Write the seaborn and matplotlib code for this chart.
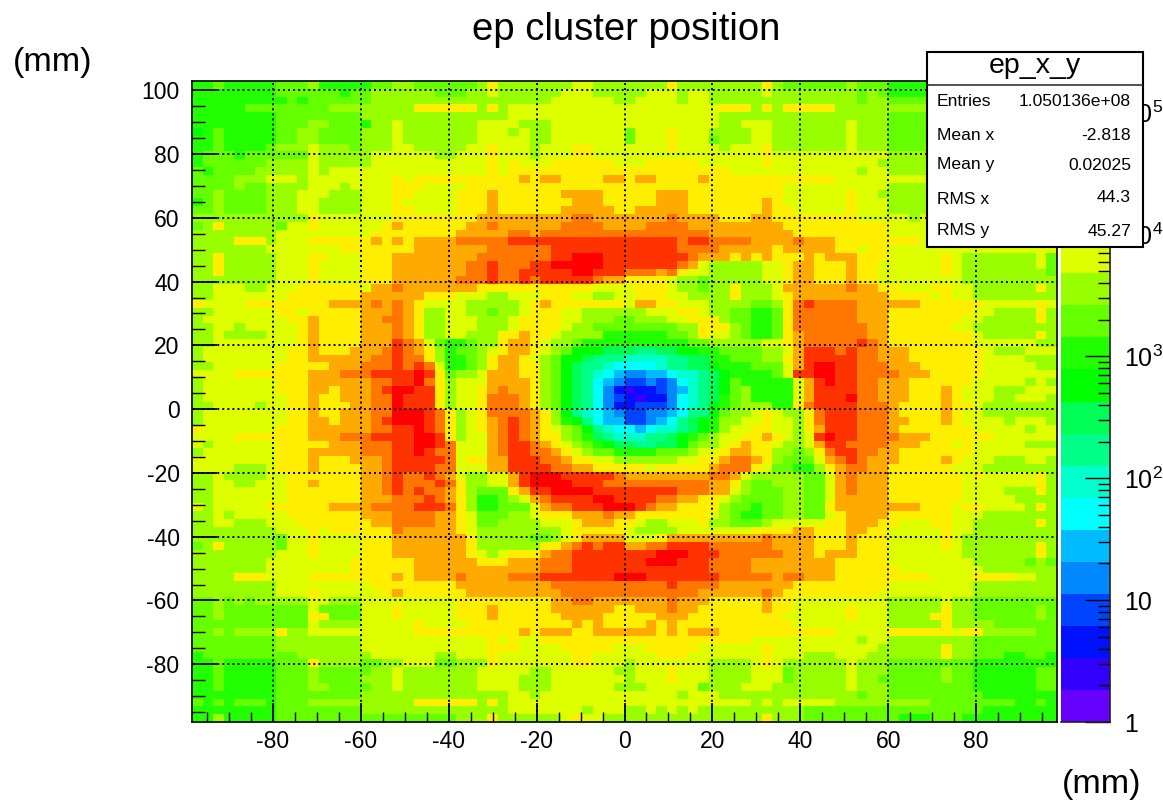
import re
import numpy as np
import seaborn as sns
import matplotlib.pyplot as plt
from matplotlib.colors import ListedColormap
from matplotlib.patches import Rectangle

# colour level codes, lowest count first
level_codes = "ZXWVUSTBCDEFHGLYAOQR"
level_colors = ["#6600ff", "#3300ff", "#0011ff", "#0044ff", "#0088ff", "#00bbff", "#00ffff",
                "#00ffcc", "#00ff88", "#00ff55", "#00ff00", "#22ff00", "#66ff00", "#99ff00",
                "#ddff00", "#ffee00", "#ffaa00", "#ff7700", "#ff3300", "#ff0000"]

# run length rows (code + number of bins), top row first, x < 0 half
left_rows = [
    "F2 H1 F5 H3 G1 F5 H2 G2 H6 G1 Y1 G7 L2 G3",
    "F8 H6 F1 H2 G6 H3 G2 L1 G6 L3 G3",
    "F9 H1 F1 H6 G17 L6 G1",
    "F5 H8 G8 Y6 G1 Y1 G1 L11",
    "F8 H8 G14 L11",
    "F8 H3 G2 H3 F1 G2 L1 G7 L4 G3 L7",
    "E1 F1 H1 F5 H2 G2 H4 G3 L1 G7 L3 G1 L1 G2 L7",
    "F2 H1 F5 H2 G2 H4 G3 L1 G7 L5 G2 L7",
    "F2 H1 F4 H1 G3 L1 G3 H1 G3 L2 G5 L2 Y1 L3 G1 L3 Y2 L3",
    "F1 H3 F1 H6 L1 G5 L6 G2 L3 Y1 L3 G1 L3 Y2 L3",
    "F1 H6 G1 G3 L1 G5 L11 Y1 L1 Y1 L3 Y6 L1",
    "H1 F1 H4 G5 L1 G1 L15 Y1 L1 Y11",
    "H4 G3 L3 G1 L8 Y1 L1 Y10 A1 Y1 A2 Y4 A2",
    "H4 G1 H2 G4 L3 G1 L4 Y2 Y1 L4 Y15",
    "H2 G1 H4 G3 L3 G3 L3 Y2 L4 Y3 A1 Y6 A4 Y2",
    "F1 H1 G1 H4 G3 L2 G4 L3 Y1 L5 Y3 A1 Y7 A3 Y2",
    "H2 G1 H4 G3 L2 G4 L3 Y2 L4 Y3 A1 Y6 A5 Y1",
    "G11 Y1 L7 Y8 A9 O2 A3",
    "H1 G1 Y1 G5 H1 L2 Y1 L6 Y1 A1 Y6 A2 O1 A6 O4 A2",
    "G8 L9 Y8 A5 O2 A1 O8",
    "G4 Y3 G1 L3 Y6 A1 Y1 A1 Y1 A4 O5 Q11",
    "G7 L7 Y7 A7 O6 Q7",
    "G2 Y1 G5 L3 Y2 L3 Y3 A8 O7 Q2 R3 Q2",
    "G2 Y1 G5 L3 Y1 L4 Y3 A7 O2 Q1 O3 Q2 R5 Q2",
    "G2 Y1 G5 L3 Y1 L4 Y3 A7 O2 Q1 O2 Q2 Q3 R2 Q3",
    "G8 L3 Y1 L4 Y3 A6 O3 Q1 O2 Q1 O1 Q5 O1 A2",
    "G2 L3 G2 L3 Y6 L1 A2 O1 A7 Y11 L3",
    "G2 L7 Y7 A6 Y3 L3 G2 L3 Y3 L2 G2 L1",
    "Y1 L4 Y8 A3 A1 O1 A1 O1 A1 Y1 L4 G5 L1 Y1 A1 Y7",
    "G2 L6 Y2 L1 Y5 A3 O1 A1 Y1 G2 L2 G2 H1 G2 L1 Y3 L2 G4",
    "G1 L7 L1 Y2 A1 Y4 A2 O2 A1 Y1 G2 L3 G3 L1 Y4 L2 G3 H1",
    "G2 L2 G1 L5 Y1 A1 Y4 A3 O1 A1 Y1 G2 L3 G3 L1 Y4 L1 G2 H3",
    "G2 L1 G4 L3 Y1 A1 Y4 A3 O1 A1 Y1 G2 L2 G3 Y2 A1 Y2 L1 G4 F2",
    "G2 L8 Y1 A1 Y4 A3 Q1 O1 A1 L1 H1 F2 H1 G2 Y1 A2 Y1 L1 G2 H1 F4",
    "G1 L8 Y2 A1 Y3 A3 O1 Q1 O1 A1 Y1 G1 F1 H2 G1 L1 Y1 A2 Y1 L1 G1 H1 E3 D2",
    "G1 L8 Y2 A5 A1 O2 Q1 O2 Y1 G1 F2 H1 G1 Y1 A2 Y1 L1 G1 H1 E2 D1 C3",
    "G2 L6 Y5 A3 O3 Q1 O1 Q1 O1 L1 F2 H1 G1 Y1 A2 Y2 G1 H1 E1 D1 C2 B1 T1",
    "L4 Y7 A3 O3 Q4 R1 Q1 Y1 H1 G2 L1 A3 Y2 G1 H1 E1 D1 C1 B1 T1 S1",
    "G1 L7 Y3 A6 O2 Q2 R1 O1 Y1 G1 L3 A4 Y1 G1 H1 E1 D1 C1 T1 S1 U1",
    "G1 L7 Y3 A2 Y1 A3 O1 Q1 R2 Q2 Y1 G1 L2 Y1 A1 O1 A2 Y1 G1 H1 E1 D1 C1 T1 U1 W1",
    "G1 L8 Y2 A1 Y2 A3 O2 R1 Q3 Y1 G1 L2 Y1 O3 A1 Y1 G1 H1 E1 D1 C1 T1 U1 V1",
    "G2 L4 G1 L2 Y2 A1 Y3 A2 O2 R1 Q3 Y1 G1 L2 Y1 O3 A1 Y1 G1 H1 E1 D1 C1 T1 U1 W1",
    "G1 L8 Y2 A1 Y2 A3 O2 R3 Q1 O1 Y1 G1 L1 Y1 O4 A1 Y1 G1 E1 C1 B1 T1 S1 U1",
    "G1 L8 Y2 A2 Y1 A3 O1 Q1 R3 Q1 O1 Y1 G1 L1 Y1 A1 O1 Q1 O1 A1 Y1 G1 F1 E1 C1 T1 S2",
    "Y1 L7 Y3 A5 A1 O2 Q2 R1 Q1 O1 Y1 G1 L1 Y1 A1 O1 Q1 O1 A1 Y1 L1 G1 H1 E1 C1 B1 T1",
    "L4 Y4 Y3 A3 O3 Q4 R2 Q1 Y1 G1 L2 A1 O1 Q1 O1 A1 Y2 G1 H1 F1 D1 C1 B1",
    "L1 G1 L6 Y5 A3 O3 Q2 R2 Q1 O1 L3 A1 O1 Q2 O1 A1 Y1 L1 G1 H1 F1 E1 D1",
    "G1 L7 Y3 A5 O3 Q2 R1 Q1 O2 L3 A1 O1 Q2 O2 A1 Y1 L1 G1 H2 F1",
    "L8 Y3 A1 Y3 A3 O1 Q5 O1 L1 Y2 A2 Q3 O2 A1 Y2 L2 G1",
    "L4 G3 L1 Y3 A1 Y4 A2 O1 Q4 O2 L3 A2 Q3 Q1 O2 A2 Y3",
    "G2 L1 G4 L2 Y7 A2 O1 Q1 O2 Q1 O1 A1 L1 G2 L2 A1 Q1 R3 Q5 O1",
    "G2 L2 G2 L3 Y2 A1 Y4 A2 O1 Q1 O3 Q1 O1 Y1 G2 L2 A1 Q1 R4 Q3 O2",
    "G2 L7 Y7 A2 O1 Q1 O1 Q1 O2 A1 Y1 G1 H3 Y1 A1 Q2 R4 Q3",
    "G2 L7 Y7 A3 O3 Q1 O1 A1 Y1 G1 F2 H1 G1 L1 A1 O1 Q4 R2 Q1",
    "L1 G1 L5 Y6 A4 O4 Q3 O1 Y1 G1 F2 H3 L1 A1 O2 Q3 R2",
    "G2 L1 G1 L5 Y7 A3 O4 A2 Y1 L1 H3 G2 L1 Y3 A3 O1 A1",
    "G2 L2 G3 L3 Y6 Y1 A2 O4 A2 Y1 L1 H2 G4 L3 Y1 A3 Y1",
    "G8 L3 Y1 L1 Y6 O1 A5 Y1 L1 G8 L1 Y5",
    "G8 H1 L2 Y1 L4 Y3 A7 Y1 G5 H2 G1 L1 Y1 A4",
    "H1 G1 Y1 G5 H1 L2 Y1 L4 Y3 A7 Y1 G6 Y2 A1 O1 Q1 O1 Q2",
    "G8 L3 Y1 L4 Y3 A7 Y1 L1 G1 L1 Y3 A1 O2 Q5",
    "G7 L8 Y6 A6 Y3 A3 O3 Q5",
    "G7 L8 Y6 A12 O3 Q5",
    "G4 Y3 L4 Y8 A1 Y1 A4 O1 A4 O3 Q7 R1",
    "G8 L9 Y8 A9 O7",
    "G8 L3 Y1 L6 Y1 A1 Y6 A9 O6",
    "H2 G1 H1 G1 H1 G5 L2 G3 L9 Y9 A2 O2 A3",
    "H2 G1 H5 H3 L1 H4 L3 Y1 L5 Y3 A1 Y5 A6 Y1",
    "H2 G1 H8 Y2 H3 L3 Y1 L5 Y3 A1 Y6 A4 Y2",
    "H11 L1 G4 L5 Y1 L4 Y10 A1 Y1 A1 Y2",
    "H2 G1 H1 G4 Y1 G2 L5 L5 Y10 A1 Y1 A3 Y2 A3",
    "H8 G8 L12 Y1 L1 Y1 L2 Y8",
    "H8 G8 L12 Y3 L4 Y5 L1",
    "F1 H9 G7 L6 G2 L3 Y1 L7 Y2 L3",
    "F2 H1 F5 H3 Y1 G4 H2 G2 L3 H2 G3 Y1 L7 Y2 L3",
    "F2 H1 F5 H3 G1 H4 H1 G2 L1 G7 L5 G2 L6 G1",
    "F2 H1 F5 H3 G1 H4 G3 L1 G7 L4 G3 L7",
    "F2 H1 F5 H3 G2 H3 H1 G2 L1 G7 L4 G3 L6 G1",
    "F8 H8 G14 L2 G1 L8",
    "H1 F1 H1 F1 H3 F1 H3 G5 G5 Y6 G1 Y1 G1 L11",
    "F8 H8 G14 L7 G1 L3",
    "F2 G1 F5 H15 H2 G3 Y1 G6 L1 Y1 L2 G2",
]

# same rows, x > 0 half
right_rows = [
    "G4 Y1 G8 Y1 G1 H6 G1 H3 F16",
    "G2 L3 G1 L2 G5 L1 G8 H1 G1 H1 F16",
    "G1 L4 G1 L2 G14 H1 G2 H16",
    "L9 Y3 G1 Y1 G1 Y5 G21",
    "L9 G16 H16",
    "L9 G2 L3 G7 L1 G3 H16",
    "H1 L3 Y1 L3 G4 L2 G7 L1 G3 H16",
    "H1 L3 Y1 L3 H1 G3 L2 G7 L1 G3 H16",
    "L4 Y1 L4 G1 L3 Y1 G7 L1 G3 H16",
    "L13 Y1 L11 G16",
    "L2 Y5 L6 Y1 L10 G17",
    "Y10 L12 G1 L2 G16",
    "Y1 A2 Y4 A1 Y12 L9 G12",
    "Y15 L10 G16",
    "Y3 A3 Y9 L6 Y1 L2 G17",
    "Y3 A3 Y7 A1 Y1 L6 Y1 L3 G16",
    "Y1 A5 Y7 A1 Y2 L5 Y1 L3 G16",
    "A4 O1 A4 Y3 A2 Y8 L5 G1 L13",
    "A2 O4 A9 Y10 L16",
    "O8 A8 Y9 L16",
    "Q5 O1 Q2 O4 A4 O1 A3 Y8 L13",
    "Q5 O4 A5 Y1 A1 A4 Y2 L1 Y2 L16",
    "Q6 O1 A3 Y1 A1 Y1 A1 Y3 A1 Y1 A3 Y3 L5 Y1 L1 G7 L1 H1",
    "Q5 O1 A1 L1 G5 L2 Y1 A2 Y3 A1 Y2 L6 Y1 L1 G7 L1 H1",
    "O3 A1 O1 Y1 L2 G5 L2 Y1 A2 Y3 A1 Y2 L6 Y1 L1 G8 H1",
    "Y4 L1 G2 H1 G5 L2 Y1 A2 Y3 A1 Y2 L8 G9",
    "L1 Y3 L1 G2 H1 G2 Y1 G3 L1 A6 O1 A2 Y2 L3 Y2 L2 G6 Y1 G1",
    "L1 Y3 L2 G4 Y1 G3 L1 Y1 A9 Y4 L1 Y1 L2 G8",
    "L1 A2 Y2 L3 G4 H2 G1 Y1 O1 Q1 O4 A3 A3 Y6 L5 Y1 L1",
    "G2 L3 Y2 L1 G2 H2 F2 H1 Y1 O6 A3 Y8 L2 G4 Y1 G1",
    "H1 G3 L2 Y3 G1 H2 F2 H1 Y1 O6 A3 Y7 L2 G5 Y1 G1",
    "H5 G2 Y3 G1 H1 F2 H1 Y1 O7 A2 Y6 L2 G8",
    "F4 H2 G1 Y1 L2 G1 H1 F2 H1 Y1 A1 O6 A2 Y8 L1 G5 Y1 G1",
    "F6 H2 G5 L2 Y1 A1 O5 Q1 O1 A1 Y8 L6 G2",
    "D1 C2 D2 E2 F2 H4 G2 L1 A1 Q3 O1 Q1 O2 A3 Y7 L1 G3 L3",
    "B4 C2 D2 F2 H3 G2 Y1 A1 Q5 O2 A3 Y7 L4 G3",
    "T3 B1 C2 D2 E1 F3 H3 L1 A1 Q1 R2 Q2 O3 A3 Y6 L5 G2",
    "U2 S2 T1 B2 C1 D1 E1 F4 H1 L1 Q2 R2 Q2 O4 A3 Y5 L7",
    "V2 U1 V1 U1 T1 B1 C1 D1 E1 H1 F5 L1 A1 Q1 R1 Q2 O2 A3 Y6 L5 G1 L1 G1",
    "X1 W2 V1 U1 S1 B1 C1 D1 E1 H1 G1 F4 L1 A1 Q4 O2 A3 Y3 A1 Y1 L3 G3 L3",
    "W1 X1 W2 U1 T1 B1 C1 D1 F1 H1 G1 F4 L1 A1 Q3 R1 O2 A3 Y3 A1 Y1 L3 G2 L3 G1",
    "W1 V3 U1 T1 B1 C1 E1 F1 H1 G1 G2 F2 Y1 O1 Q4 O3 A1 Y4 A1 Y2 L1 G7",
    "V2 U2 S1 T1 C2 E1 H1 G2 L1 Y1 L1 G2 Y1 O1 Q3 O2 O1 A1 Y4 A1 Y1 L2 G7",
    "V2 U1 S1 T1 C1 D1 E1 F1 G2 L2 Y1 L2 G1 Y1 O1 Q3 O3 A2 Y3 A1 Y1 L2 L2 G1 L3 G1",
    "T1 S1 T1 B2 C1 D1 E1 F1 G1 L2 Y2 L2 G1 Y1 A1 Q3 O3 A1 Y7 L5 G1 L2",
    "B2 C2 D1 E1 F1 H1 G1 L2 Y2 A1 Y1 L1 G1 L1 Q1 R1 Q2 O4 A3 Y6 L6",
    "D1 C2 D2 E1 H1 G2 L1 Y1 A1 Y2 L1 G2 L1 A1 Q2 O4 A3 Y3 L1 Y1 L5 G3",
    "F3 H3 G1 L2 Y1 A2 Y2 G2 H1 G1 Y1 O1 Q2 O2 A2 Y7 L8",
    "G5 L2 Y2 A1 O2 A1 Y1 G1 H3 L1 A1 O1 Q1 O1 A3 Y4 A1 Y1 L3 G3 L2 G1",
    "Y2 L1 Y5 A1 O3 Y1 L1 H2 F2 G1 Y1 A1 O2 A2 Y6 L3 G7",
    "A8 O2 A1 L1 G5 H2 L1 A1 O1 A3 Y7 L1 Y1 L5 Y1 G1",
    "O8 A2 Y1 G1 H2 G3 H2 L1 A1 O1 A3 Y7 L7 Y1 G1",
    "Q5 O3 A2 L1 G1 H3 G2 H2 L1 A1 O1 A3 Y7 L4 G3 Y1 G1",
    "Q3 O2 A2 Y2 L1 G1 H4 G2 H2 L1 A5 Y7 L5 G4",
    "R1 Q1 O1 A2 Y4 G1 H2 F1 H2 G2 H2 Y1 A5 A3 Y3 L1 Y2 L4 G1 Y1 G1",
    "A1 Y5 Y2 L1 G1 H1 F2 H2 G2 H2 L1 Y1 A4 Y6 L3 G7",
    "Y1 L1 G2 L3 Y1 G2 H3 G1 L5 Y2 A3 Y2 L3 Y2 L2 G6 Y1 G1",
    "L1 G4 L7 Y4 A2 Y3 A2 Y2 L5 Y1 L2 G8",
    "L3 Y1 A9 O1 A4 Y3 A1 Y3 L5 Y1 L1 G9",
    "A2 O2 Q4 O6 A4 Y3 A1 Y3 L5 Y1 L1 G7 Y1 G1",
    "Q3 R3 Q3 O6 A3 Y1 A3 Y3 L7 G7 Y1 G1",
    "Q2 R3 Q3 O4 A7 A1 Y5 L8 G5 H1 G1 H1",
    "Q8 O4 A8 Y6 L8 G7",
    "R2 Q7 O5 A1 O2 A3 Y5 Y4 L4 Y4 L2 G2",
    "O4 Q1 O4 A7 Y9 L8 G8",
    "O7 A6 O1 A1 Y9 L9 G8",
    "A4 O1 A3 Y5 A1 Y2 L9 G5 L1 G2 H8",
    "Y1 A3 O1 A2 Y6 A1 Y2 L5 Y1 L3 G5 Y1 G2 H6 G1 H1",
    "Y3 A3 Y9 L6 Y1 L3 G4 Y2 G2 H6 G1 H1",
    "Y2 A1 Y1 A1 Y11 L9 G5 Y1 G2 G2 H6",
    "A3 Y1 A1 Y1 A3 Y11 L5 Y6 L1 Y2 G5 H2",
    "Y12 L10 G1 L2 G8 H8",
    "L2 Y5 L6 Y1 L10 G6 Y1 G2 H8",
    "L3 Y3 L7 Y1 L3 G3 L3 G7 Y1 G2 H3 F2 H2 F1",
    "G1 L7 G4 L1 Y1 L1 G6 L1 G3 H8 F8",
    "G1 L3 Y1 L3 G4 L3 H1 G5 L1 G3 H5 G1 H2 F6 H2",
    "G1 L3 Y1 L3 G4 L3 H1 G5 L1 G2 H1 H5 G1 H2 F6 H2",
    "G2 L5 H1 G3 L3 G7 L1 G3 H8 F6 H2",
    "L5 G1 L3 G13 H1 G2 H9 F7",
    "L12 G1 L1 G1 L5 G9 H8 F2 H1 F1",
    "G2 L1 G1 L1 G1 L1 G10 H17 F7",
    "G13 Y1 G3 H8 H1 F3 H3 F9",
]

x_major = [-80, -60, -40, -20, 0, 20, 40, 60, 80]
y_major = [-80, -60, -40, -20, 0, 20, 40, 60, 80, 100]
cbar_major = [1, 10, 100, 1000, 10000, 100000]
cbar_labels = ["1", "10", r"$\mathdefault{10^{2}}$", r"$\mathdefault{10^{3}}$",
               r"$\mathdefault{10^{4}}$", r"$\mathdefault{10^{5}}$"]
stat_names = ["Entries", "Mean x", "Mean y", "RMS x", "RMS y"]
stat_values = ["1.050136e+08", "-2.818", "0.02025", "44.3", "45.27"]


def expand(row):
    cells = []
    for code, n in re.findall(r"([A-Z])(\d+)", row):
        cells += [level_codes.index(code)] * int(n)
    # each half is 41 bins wide
    cells = cells[:41]
    return cells + cells[-1:] * (41 - len(cells))


def px_axes(fig, left, top, right, bottom, **kw):
    w, h = 1163.0, 801.0
    return fig.add_axes([left / w, 1 - bottom / h, (right - left) / w, (bottom - top) / h], **kw)


sns.set_theme(style="white")
plt.rcParams["font.family"] = ["Liberation Sans", "DejaVu Sans"]
plt.rcParams["mathtext.fontset"] = "custom"
plt.rcParams["mathtext.rm"] = "Liberation Sans"
plt.rcParams["mathtext.default"] = "regular"

counts = np.array([expand(l) + expand(r) for l, r in zip(left_rows, right_rows)])
cmap = ListedColormap(level_colors)

fig = plt.figure(figsize=(11.63, 8.01), dpi=100)
ax = px_axes(fig, 192, 81, 1057, 722)
sns.heatmap(counts, ax=ax, cmap=cmap, vmin=-0.5, vmax=19.5, cbar=False,
            xticklabels=False, yticklabels=False)
ax.set_axisbelow(False)

# heatmap works in bin numbers, so map mm onto them
x_lim = (-98.4, 98.4)
y_lim = (-98.1, 102.9)


def x_pos(v):
    return (np.asarray(v) - x_lim[0]) / (x_lim[1] - x_lim[0]) * counts.shape[1]


def y_pos(v):
    return (y_lim[1] - np.asarray(v)) / (y_lim[1] - y_lim[0]) * counts.shape[0]


ax.set_xticks(x_pos(x_major))
ax.set_xticklabels([str(v) for v in x_major], fontsize=16.5, color="black")
ax.set_yticks(y_pos(y_major))
ax.set_yticklabels([str(v) for v in y_major], fontsize=16.5, color="black", rotation=0)
ax.set_xticks(x_pos(np.arange(-95, 100, 5)), minor=True)
ax.set_yticks(y_pos(np.arange(-95, 105, 5)), minor=True)
ax.tick_params(axis="x", which="major", direction="in", length=14, width=1.3, color="black", pad=6, bottom=True)
ax.tick_params(axis="x", which="minor", direction="in", length=7, width=1.0, color="black", bottom=True)
ax.tick_params(axis="y", which="major", direction="in", length=18, width=1.3, color="black", pad=9, left=True)
ax.tick_params(axis="y", which="minor", direction="in", length=9, width=1.0, color="black", left=True)
ax.grid(False)
for v in x_pos(x_major):
    ax.axvline(v, color="black", lw=1.4, ls=(0, (1, 1.6)), zorder=3)
for v in y_pos(y_major):
    ax.axhline(v, color="black", lw=1.4, ls=(0, (1, 1.6)), zorder=3)
for s in ax.spines.values():
    s.set_visible(True)
    s.set_color("black")
    s.set_linewidth(1.2)

# colour scale
cax = px_axes(fig, 1061, 81, 1110, 722)
sns.heatmap(np.arange(19, -1, -1).reshape(-1, 1), ax=cax, cmap=cmap, vmin=-0.5, vmax=19.5,
            cbar=False, xticklabels=False, yticklabels=False)
scale = px_axes(fig, 1061, 81, 1110, 722)
scale.patch.set_alpha(0)
scale.set_yscale("log")
scale.set_ylim(1, 10 ** 5.26)
scale.set_xticks([])
scale.yaxis.tick_right()
scale.set_yticks(cbar_major)
scale.set_yticklabels(cbar_labels, fontsize=18, color="black")
minor = [m * 10 ** e for e in range(6) for m in range(2, 10) if m * 10 ** e < 10 ** 5.26]
scale.set_yticks(minor, minor=True)
scale.set_yticklabels([], minor=True)
scale.tick_params(axis="y", which="major", direction="in", length=18, width=1.0, color="black", pad=10, right=True)
scale.tick_params(axis="y", which="minor", direction="in", length=9, width=1.0, color="black", right=True)
for side in ["left", "top"]:
    scale.spines[side].set_visible(False)
for side in ["right", "bottom"]:
    scale.spines[side].set_color("#222222")
    scale.spines[side].set_linewidth(1.2)

fig.text(626 / 1163, 1 - 30 / 801, "ep cluster position", fontsize=27.5, ha="center", va="center", color="black")
fig.text(53 / 1163, 1 - 63 / 801, "(mm)", fontsize=24.5, ha="center", va="center", color="black")
fig.text(1102 / 1163, 1 - 785 / 801, "(mm)", fontsize=24.5, ha="center", va="center", color="black")

# stats box, in reference pixels
box = px_axes(fig, 927, 52, 1143, 247, zorder=5)
box.set_xlim(927, 1143)
box.set_ylim(247, 52)
box.axis("off")
box.add_patch(Rectangle((927, 52), 216, 195, facecolor="white", edgecolor="black", lw=1.5, clip_on=False))
box.plot([927, 1143], [85, 85], color="#333333", lw=1.2)
box.text(1035, 66, "ep_x_y", fontsize=20.5, ha="center", va="center", color="black")
for name, value, py_name, py_val in zip(stat_names, stat_values,
                                        [102, 135, 165, 200, 231], [101, 135, 166, 198, 232]):
    box.text(937, py_name, name, fontsize=12.6, ha="left", va="center", color="black")
    box.text(1131, py_val, value, fontsize=12.6, ha="right", va="center", color="black")

fig.savefig("out.png", dpi=100)
